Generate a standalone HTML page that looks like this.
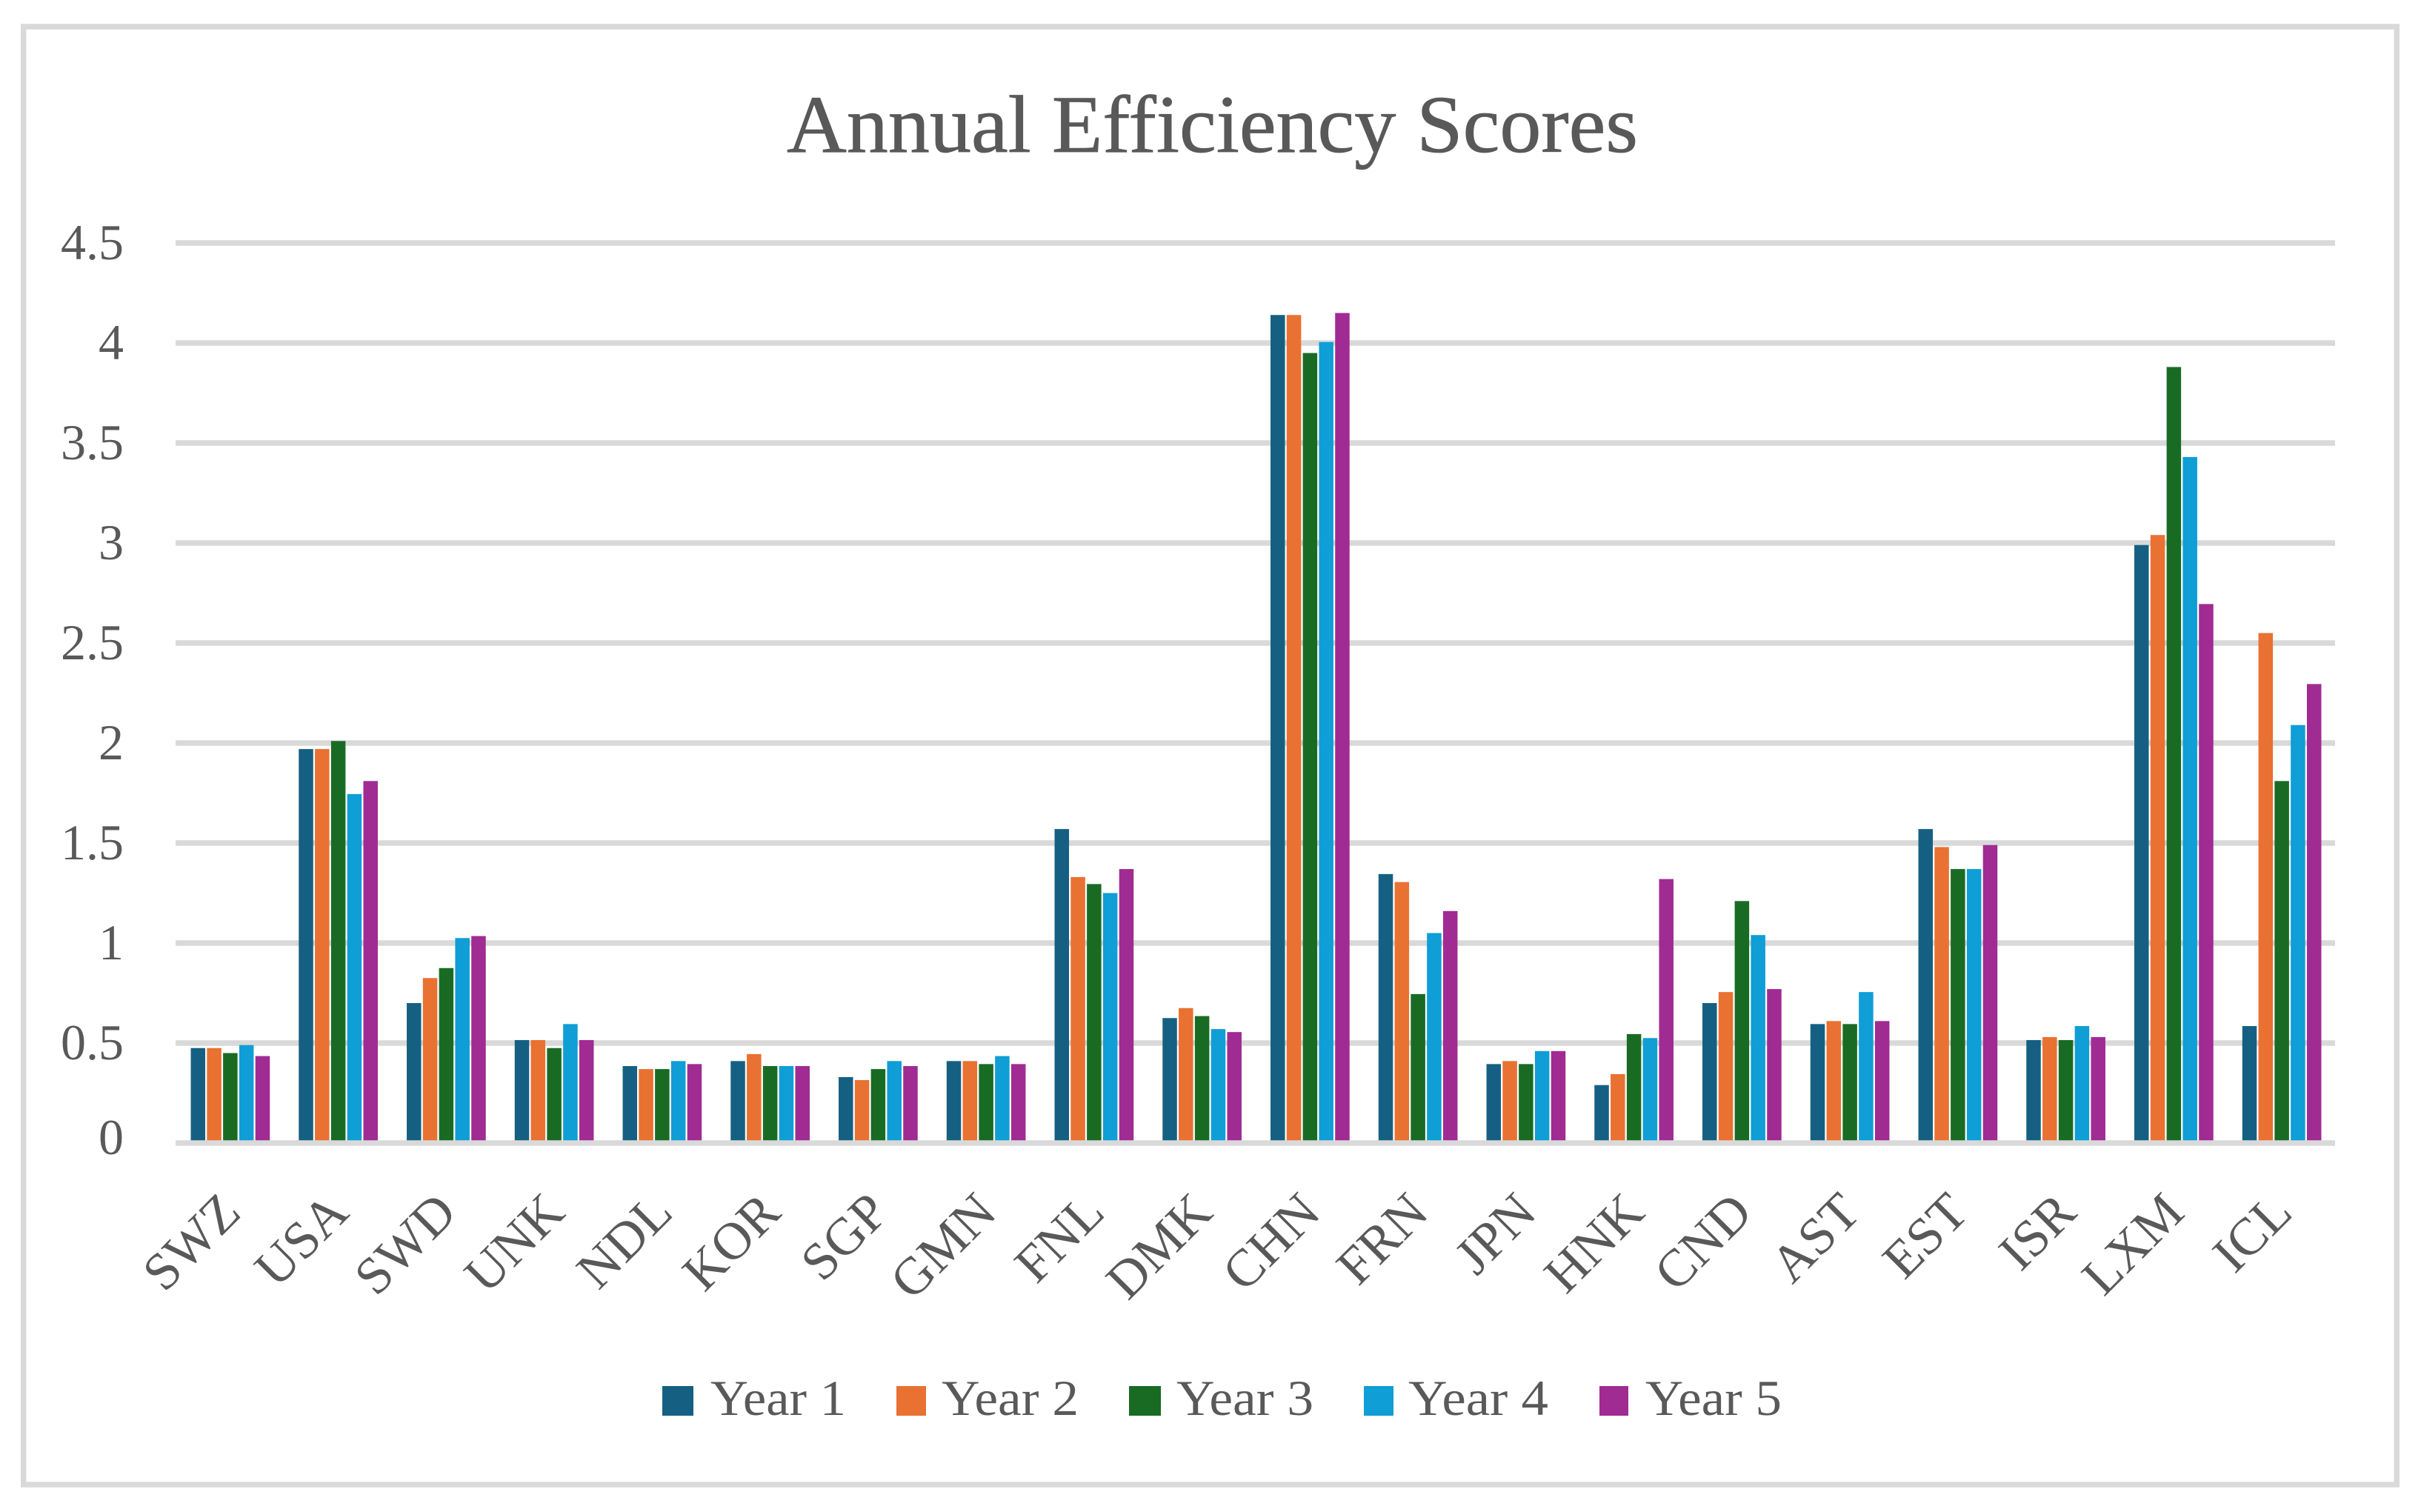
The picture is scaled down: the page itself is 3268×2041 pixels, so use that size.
<!DOCTYPE html>
<html lang="en">
<head>
<meta charset="utf-8">
<title>Annual Efficiency Scores</title>
<style>
  html, body { margin: 0; padding: 0; background: #fff; }
  svg { display: block; }
  text { font-family: "Liberation Serif", serif; fill: #595959; }
</style>
</head>
<body>
<svg id="chart" xmlns="http://www.w3.org/2000/svg" width="3268" height="2041" viewBox="0 0 3268 2041">
  <rect x="0" y="0" width="3268" height="2041" fill="#ffffff"/>
  <rect x="31.75" y="36" width="3203.5" height="1968" fill="#ffffff" stroke="#d9d9d9" stroke-width="7.5"/>
  <text x="1062" y="205" font-size="110" stroke="#595959" stroke-width="0.8" textLength="1149" lengthAdjust="spacingAndGlyphs">Annual Efficiency Scores</text>
  <g id="grid"></g>
  <g id="yticks"></g>
  <g id="bars"></g>
  <g id="axis"></g>
  <g id="xticks"></g>
  <g id="legend">
    <g>
      <rect x="894" y="1871" width="42" height="40" fill="#156082"/>
      <text x="959" y="1910" font-size="68" textLength="183" lengthAdjust="spacingAndGlyphs">Year 1</text>
    </g>
    <g>
      <rect x="1210" y="1871" width="40" height="40" fill="#e97132"/>
      <text x="1271" y="1910" font-size="68" textLength="185" lengthAdjust="spacingAndGlyphs">Year 2</text>
    </g>
    <g>
      <rect x="1524" y="1871" width="43" height="40" fill="#196b24"/>
      <text x="1588" y="1910" font-size="68" textLength="185" lengthAdjust="spacingAndGlyphs">Year 3</text>
    </g>
    <g>
      <rect x="1841" y="1871" width="40" height="40" fill="#0f9ed5"/>
      <text x="1901" y="1910" font-size="68" textLength="189" lengthAdjust="spacingAndGlyphs">Year 4</text>
    </g>
    <g>
      <rect x="2159" y="1871" width="39" height="40" fill="#a02b93"/>
      <text x="2221" y="1910" font-size="68" textLength="184" lengthAdjust="spacingAndGlyphs">Year 5</text>
    </g>
  </g>
</svg>
<script>
var categories = ["SWZ","USA","SWD","UNK","NDL","KOR","SGP","GMN","FNL","DMK","CHN","FRN","JPN","HNK","CND","AST","EST","ISR","LXM","ICL"];
var yTickValues = [0, 0.5, 1, 1.5, 2, 2.5, 3, 3.5, 4, 4.5];
var yTickLabels = ["0","0.5","1","1.5","2","2.5","3","3.5","4","4.5"];
var year1 = [0.475,1.97,0.70,0.515,0.385,0.41,0.33,0.41,1.57,0.625,4.14,1.345,0.395,0.29,0.70,0.595,1.57,0.515,2.99,0.585];
var year2 = [0.475,1.97,0.825,0.515,0.37,0.445,0.315,0.41,1.33,0.675,4.14,1.305,0.41,0.345,0.755,0.61,1.48,0.53,3.04,2.55];
var year3 = [0.45,2.01,0.875,0.475,0.37,0.385,0.37,0.395,1.295,0.635,3.95,0.745,0.395,0.545,1.21,0.595,1.37,0.515,3.88,1.81];
var year4 = [0.49,1.745,1.025,0.595,0.41,0.385,0.41,0.435,1.25,0.57,4.005,1.05,0.46,0.525,1.04,0.755,1.37,0.585,3.43,2.09];
var year5 = [0.435,1.81,1.035,0.515,0.395,0.385,0.385,0.395,1.37,0.555,4.15,1.16,0.46,1.32,0.77,0.61,1.49,0.53,2.695,2.295];
var seriesColors = ["#156082","#e97132","#196b24","#0f9ed5","#a02b93"];
var seriesValues = [year1, year2, year3, year4, year5];

var NS = "http://www.w3.org/2000/svg";
var plotLeft = 237, plotRight = 3152, zeroY = 1543, unitHeight = 270;
var barPitch = 21.8, barWidth = 19.5, groupShift = 1;

function yScale(v) { return zeroY - v * unitHeight; }
function xCenter(i) { return plotLeft + (plotRight - plotLeft) / categories.length * (i + 0.5); }
function make(tag, parentId, attrs) {
  var el = document.createElementNS(NS, tag);
  for (var k in attrs) { el.setAttribute(k, attrs[k]); }
  document.getElementById(parentId).appendChild(el);
  return el;
}

yTickValues.forEach(function (v, i) {
  if (v !== 0) {
    var line = make("rect", "grid", { x: plotLeft, y: yScale(v) - 3.75, width: plotRight - plotLeft, height: 7.5, fill: "#d9d9d9" });
    
    
  }
  var label = make("text", "yticks", { x: 167, y: yScale(v) + (v === 0 ? 15 : 22), "font-size": 68, "text-anchor": "end" });
  
  
  label.textContent = yTickLabels[i];
});

seriesValues.forEach(function (values, s) {
  values.forEach(function (v, i) {
    var x = xCenter(i) + groupShift + (s - 2) * barPitch - barWidth / 2;
    var bar = make("rect", "bars", { x: x, y: yScale(v), width: barWidth, height: zeroY - yScale(v), fill: seriesColors[s] });
    
    
  });
});

var axisLine = make("rect", "axis", { x: plotLeft, y: zeroY - 3.75, width: plotRight - plotLeft, height: 7.5, fill: "#d9d9d9" });



categories.forEach(function (c, i) {
  var px = xCenter(i) + 18, py = 1640;
  var t = make("text", "xticks", { x: px, y: py, "font-size": 71, "text-anchor": "end", transform: "rotate(-45 " + px + " " + py + ")" });
  
  
  t.textContent = c;
});
</script>
</body>
</html>
